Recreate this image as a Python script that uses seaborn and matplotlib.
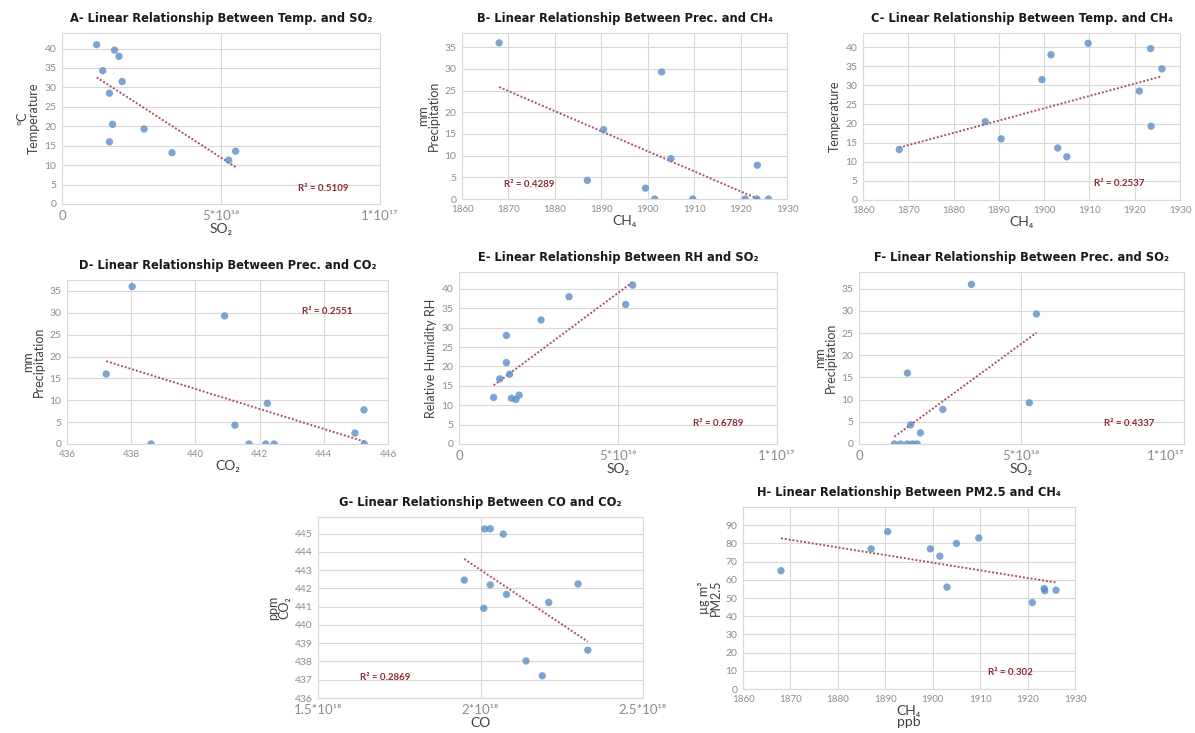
import numpy as np
import matplotlib
matplotlib.use("Agg")
import matplotlib.pyplot as plt
import seaborn as sns

ch4 = [1868, 1887, 1890.5, 1899.5, 1901.5, 1903, 1905, 1909.7, 1921, 1923.5, 1923.6, 1926]
temp = [13.2, 20.5, 16, 31.5, 38, 13.6, 11.3, 41, 28.5, 39.6, 19.3, 34.3]
prec = [36, 4.3, 16, 2.5, 0, 29.3, 9.3, 0, 0, 0, 7.8, 0]
rh = [38, 18, 21, 12.6, 11.5, 41, 36, 12, 28, 11.8, 32, 16.8]
so2 = [3.46, 1.59, 1.49, 1.89, 1.79, 5.46, 5.24, 1.09, 1.49, 1.65, 2.58, 1.28]   # x 1e16
co2 = [438.03, 441.23, 437.22, 444.97, 438.62, 440.91, 442.24, 441.67, 442.19, 442.45, 445.25, 445.26]
co = [2.14, 2.21, 2.19, 2.07, 2.33, 2.01, 2.30, 2.08, 2.03, 1.95, 2.013, 2.03]    # x 1e18
pm25 = [65, 77, 86.5, 77, 73, 56, 80, 83, 47.5, 55.2, 54.0, 54.3]

r2_labels = ["0.5109", "0.4289", "0.2537", "0.2551", "0.6789", "0.4337", "0.2869", "0.302"]

so2_ticks = ["0", "5*10¹⁶", "1*10¹⁷"]
co_ticks = ["1.5*10¹⁸", "2*10¹⁸", "2.5*10¹⁸"]

sns.set_style("white")
plt.rcParams['font.family'] = ['Lato', 'DejaVu Sans']

DOT = "#5B8FC7"
TREND = "#A8506A"
R2COL = "#8E2A35"
GRID = "#D9D9D9"
TICK = "#8C8C8C"

fig = plt.figure(figsize=(11.95, 7.33), dpi=100)

# panel: (letter, title, x, y, rect, xlim, ylim, xticks, yticks, xlabel, ylabel, r2 pos)
panels = [
    ("A", "Linear Relationship Between Temp. and SO₂", so2, temp,
     [0.0519, 0.7217, 0.2661, 0.2333], (0, 10), (0, 44), [0, 5, 10], range(0, 41, 5),
     "SO₂", "ºC\nTemperature", (8.2, 4)),
    ("B", "Linear Relationship Between Prec. and CH₄", ch4, prec,
     [0.3866, 0.7285, 0.2720, 0.2265], (1860, 1930), (0, 38.3), range(1860, 1931, 10), range(0, 36, 5),
     "CH₄", "mm\nPrecipitation", (1874.5, 3.3)),
    ("C", "Linear Relationship Between Temp. and CH₄", ch4, temp,
     [0.7222, 0.7272, 0.2653, 0.2278], (1860, 1930), (0, 43.7), range(1860, 1931, 10), range(0, 41, 5),
     "CH₄", "Temperature", (1916.5, 4.2)),
    ("D", "Linear Relationship Between Prec. and CO₂", co2, prec,
     [0.0561, 0.3943, 0.2686, 0.2237], (436, 446), (0, 37.5), range(436, 447, 2), range(0, 36, 5),
     "CO₂", "mm\nPrecipitation", (444.1, 30.4)),
    ("E", "Linear Relationship Between RH and SO₂", so2, rh,
     [0.3841, 0.3943, 0.2661, 0.2347], (0, 10), (0, 44.4), [0, 5, 10], range(0, 41, 5),
     "SO₂", "Relative Humidity RH", (8.15, 5.4)),
    ("F", "Linear Relationship Between Prec. and SO₂", so2, prec,
     [0.7188, 0.3943, 0.2720, 0.2347], (0, 10), (0, 38.8), [0, 5, 10], range(0, 36, 5),
     "SO₂", "mm\nPrecipitation", (8.3, 4.7)),
    ("G", "Linear Relationship Between CO and CO₂", co, co2,
     [0.2661, 0.0477, 0.2720, 0.2469], (1.5, 2.5), (436, 445.9), [1.5, 2.0, 2.5], range(436, 446),
     "CO", "ppm\nCO₂", (1.706, 437.15)),
    ("H", "Linear Relationship Between PM2.5 and CH₄", ch4, pm25,
     [0.6218, 0.0600, 0.2778, 0.2483], (1860, 1930), (0, 100), range(1860, 1931, 10), range(0, 91, 10),
     "CH₄\nppb", "µg m³\nPM2.5", (1916.3, 9.3)),
]

for i, (letter, title, x, y, rect, xlim, ylim, xt, yt, xlab, ylab, r2pos) in enumerate(panels):
    ax = fig.add_axes(rect)
    sns.regplot(x=x, y=y, ax=ax, ci=None,
                scatter_kws=dict(s=28, color=DOT, edgecolor="none", zorder=3),
                line_kws=dict(color=TREND, lw=1.4, ls=(0, (1, 1)), zorder=2))
    ax.set_xlim(*xlim)
    ax.set_ylim(*ylim)
    ax.set_xticks(list(xt))
    ax.set_yticks(list(yt))
    if letter in "AEF":
        ax.set_xticklabels(so2_ticks, fontsize=9.5)
        if letter == "F":
            # the last label sits right at the figure edge
            ax.get_xticklabels()[-1].set_horizontalalignment("right")
    elif letter == "G":
        ax.set_xticklabels(co_ticks, fontsize=9.5)
    else:
        ax.tick_params(axis="x", labelsize=7)
    ax.tick_params(axis="y", labelsize=7.5)
    ax.tick_params(colors=TICK, length=0, pad=4)
    ax.grid(True, color=GRID, lw=0.8)
    ax.set_axisbelow(True)
    for sp in ax.spines.values():
        sp.set_color(GRID)
        sp.set_linewidth(0.8)
    ax.set_xlabel(xlab, fontsize=10, color="#404040", labelpad=1, linespacing=0.9)
    ax.set_ylabel(ylab, fontsize=9, color="#404040", labelpad=3, linespacing=0.95)
    ax.set_title(letter + "- " + title, fontsize=8.3, fontweight="bold",
                 family=["DejaVu Sans"], color="#1a1a1a", pad=8)
    ax.text(r2pos[0], r2pos[1], "R² = " + r2_labels[i], fontsize=7, color=R2COL,
            fontweight="bold", ha="center", va="center")

fig.savefig("out.png", dpi=100)
